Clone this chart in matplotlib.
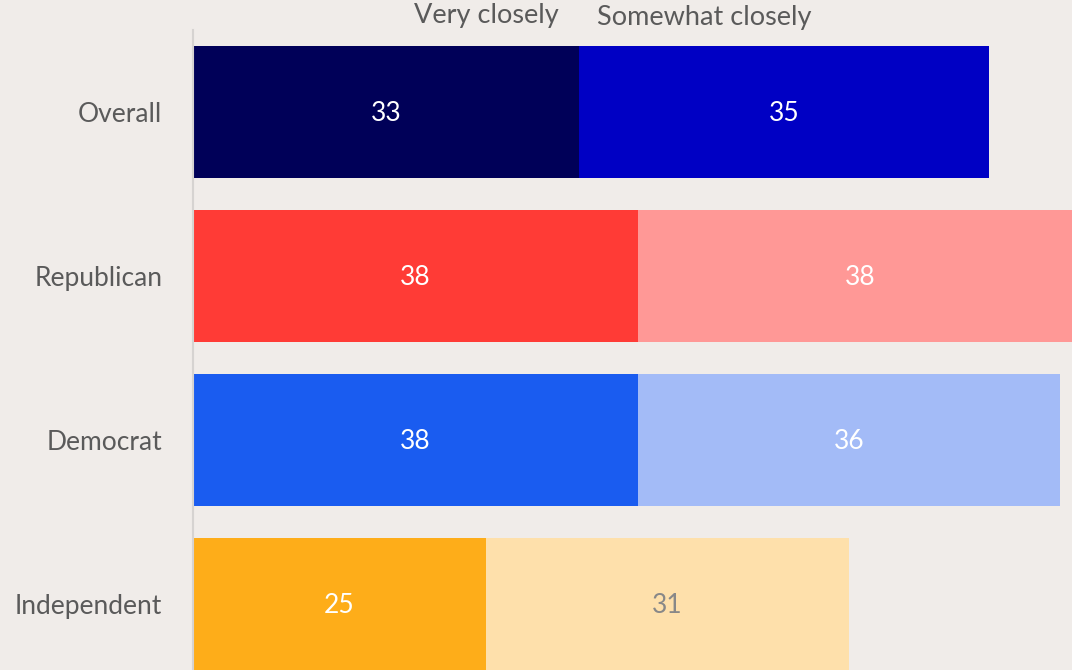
import matplotlib.pyplot as plt

plt.rcParams['font.family'] = ['Lato', 'DejaVu Sans']

groups = ['Overall', 'Republican', 'Democrat', 'Independent']
very_closely = [33, 38, 38, 25]
somewhat_closely = [35, 38, 36, 31]

very_colors = ['#000058', '#ff3b36', '#1a5cf0', '#fead19']
somewhat_colors = ['#0000c4', '#ff9896', '#a3bbf7', '#fee0ab']
somewhat_text = ['white', 'white', 'white', '#888888']

bg = '#f0ece9'
text_col = '#5a5a5a'

fig = plt.figure(figsize=(10.72, 6.7), dpi=100, facecolor=bg)
ax = fig.add_axes([193 / 1072, 0, 1 - 193 / 1072, 1 - 30 / 670])
ax.set_facecolor(bg)

ypos = range(len(groups))
ax.barh(ypos, very_closely, height=0.805, color=very_colors)
ax.barh(ypos, somewhat_closely, left=very_closely, height=0.805, color=somewhat_colors)

for i in ypos:
    v = very_closely[i]
    s = somewhat_closely[i]
    ax.text(v / 2, i + 0.01, str(v), ha='center', va='center', color='white', fontsize=19)
    ax.text(v + s / 2, i + 0.01, str(s), ha='center', va='center', color=somewhat_text[i], fontsize=19)

ax.set_xlim(0, 879 / 11.71)
ax.set_ylim(3.402, -0.5)
ax.set_yticks(list(ypos))
ax.set_yticklabels(groups, fontsize=19, color=text_col)
ax.tick_params(axis='y', length=0, pad=22)
ax.set_xticks([])
for side in ['top', 'right', 'bottom']:
    ax.spines[side].set_visible(False)
ax.spines['left'].set_color('#d6d3d1')
ax.spines['left'].set_linewidth(1.5)

# series names above the first bar
fig.text(559 / 1072, 1 - 16 / 670, 'Very closely', ha='right', va='center',
         fontsize=19.5, color=text_col)
fig.text(597 / 1072, 1 - 18 / 670, 'Somewhat closely', ha='left', va='center',
         fontsize=19.5, color=text_col)

fig.savefig('out.png', dpi=100, facecolor=bg)
